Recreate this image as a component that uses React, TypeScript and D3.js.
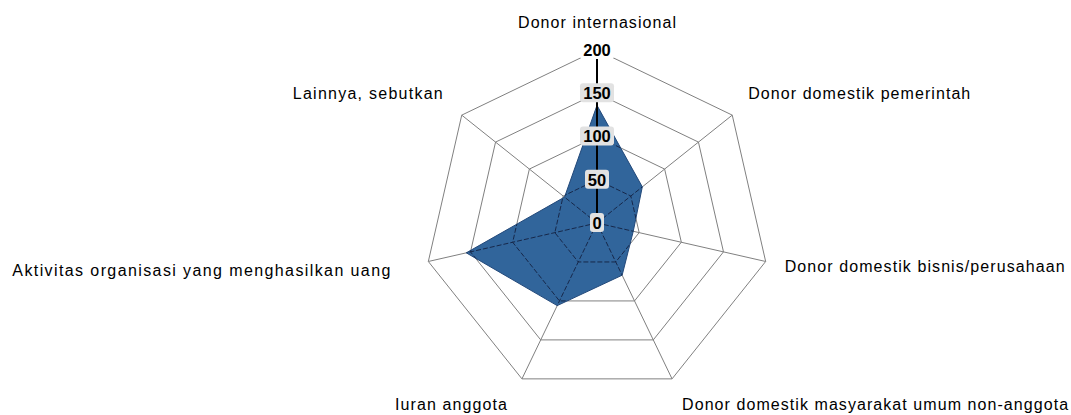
import React from 'react';
import * as d3 from 'd3';

// categories and values
const categories = [
  'Donor internasional',
  'Donor domestik pemerintah',
  'Donor domestik bisnis/perusahaan',
  'Donor domestik masyarakat umum non-anggota',
  'Iuran anggota',
  'Aktivitas organisasi yang menghasilkan uang',
  'Lainnya, sebutkan',
];
const values = [136, 67, 43, 67, 106, 155, 48];
const levels = [0, 50, 100, 150, 200];
const tickLabels = ['0', '50', '100', '150', '200'];

// layout
const width = 1071;
const height = 415;
const cx = 597;
const cy = 223;
const radius = 173;
const labelWidths = [158, 222, 280, 386, 112, 378, 150];
const labelOffsets: [number, number][] = [
  [0, -22],
  [16, -16],
  [19, 11],
  [10, 31],
  [-15, 31],
  [-38, 15],
  [-19, -16],
];
const font = '"Liberation Sans", Arial, sans-serif';

export default function App() {
  const n = categories.length;
  const r = d3.scaleLinear().domain([0, 200]).range([0, radius]);
  const angle = (i: number) => (i * 2 * Math.PI) / n;

  const radial = d3
    .lineRadial<number>()
    .angle((d, i) => angle(i))
    .radius((d) => r(d))
    .curve(d3.curveLinearClosed);

  const rings = levels.slice(1).map((l) => radial(categories.map(() => l)) as string);
  const spokes = categories.map((c, i) => d3.pointRadial(angle(i), r(200)));
  const dataPath = radial(values) as string;

  const anchorFor = (i: number) => {
    const s = Math.sin(angle(i));
    if (Math.abs(s) < 0.01) return 'middle';
    return s > 0 ? 'start' : 'end';
  };

  const grid = (stroke: string, dash?: string) => (
    <g fill="none" stroke={stroke} strokeWidth={1} strokeDasharray={dash}>
      {rings.map((d, i) => (
        <path key={'r' + i} d={d} />
      ))}
      {spokes.map((p, i) => (
        <line key={'s' + i} x1={0} y1={0} x2={p[0]} y2={p[1]} />
      ))}
    </g>
  );

  return (
    <div style={{ position: 'absolute', left: 0, top: 0 }}>
      <svg width={width} height={height} style={{ display: 'block', background: '#fff' }}>
        <defs>
          <clipPath id="dataClip">
            <path d={dataPath} transform={`translate(${cx},${cy})`} />
          </clipPath>
        </defs>
        <g transform={`translate(${cx},${cy})`}>
          {grid('#808080')}
          <path d={dataPath} fill="#31659b" stroke="#23497a" strokeWidth={1} />
        </g>
        <g clipPath="url(#dataClip)">
          <g transform={`translate(${cx},${cy})`}>{grid('#17284a', '5,2')}</g>
        </g>
        <g transform={`translate(${cx},${cy})`}>
          {/* value axis */}
          <line x1={0} y1={0} x2={0} y2={-r(200)} stroke="#000" strokeWidth={2} />
          {levels.map((l, i) => {
            const w = tickLabels[i].length * 10 + 4;
            return (
              <g key={l} transform={`translate(0,${-r(l)})`}>
                <rect
                  x={-w / 2}
                  y={-10}
                  width={w}
                  height={19}
                  rx={3}
                  fill={i === levels.length - 1 ? '#fff' : '#e2e2e2'}
                />
                <text
                  textAnchor="middle"
                  dy="0.36em"
                  fontFamily={font}
                  fontWeight="bold"
                  fontSize={16.5}
                  fill="#000"
                >
                  {tickLabels[i]}
                </text>
              </g>
            );
          })}
          {categories.map((c, i) => {
            const p = d3.pointRadial(angle(i), r(200));
            const [ox, oy] = labelOffsets[i];
            return (
              <text
                key={c}
                x={p[0] + ox}
                y={p[1] + oy}
                textAnchor={anchorFor(i)}
                fontFamily={font}
                fontSize={16}
                fill="#000"
                textLength={labelWidths[i]}
                lengthAdjust="spacing"
              >
                {c}
              </text>
            );
          })}
        </g>
      </svg>
    </div>
  );
}
